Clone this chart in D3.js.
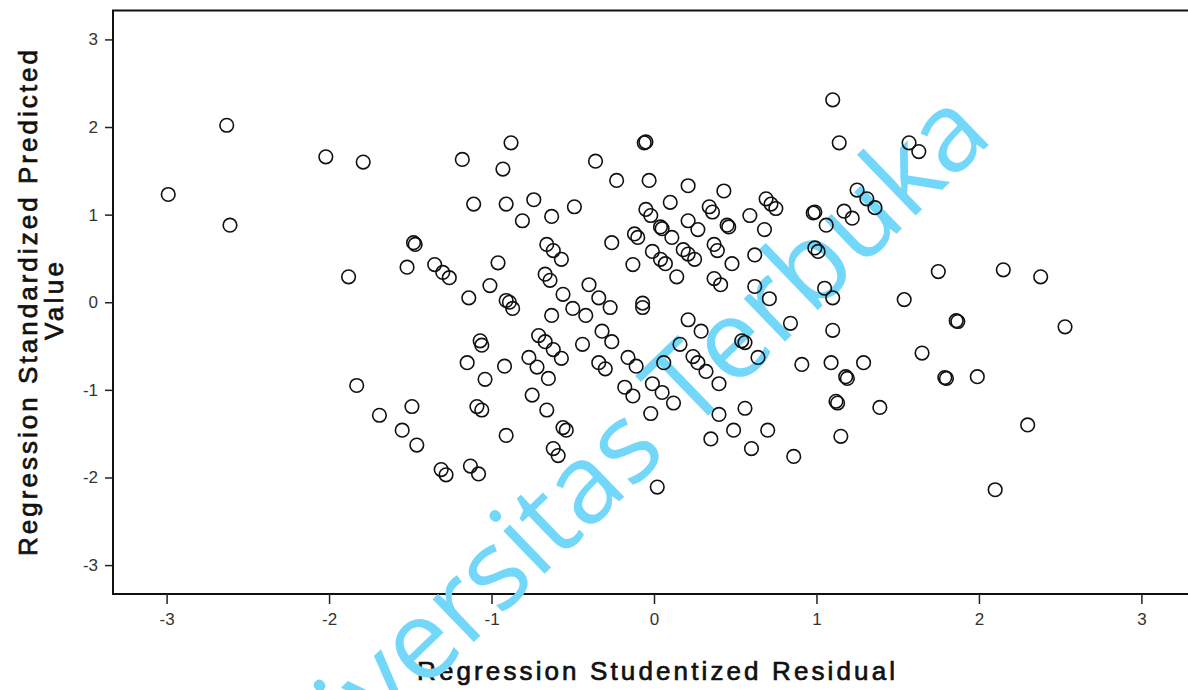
<!DOCTYPE html>
<html>
<head>
<meta charset="utf-8">
<script src="https://cdn.jsdelivr.net/npm/d3@7"></script>
<style>
  html, body { margin: 0; padding: 0; background: #fff; }
  svg { display: block; }
</style>
</head>
<body>
<div id="chart"></div>
<script>
// studentized residual (x) and standardized predicted value (y)
const residual = [
  -2.99, -2.63, -2.61, -2.02, -1.79, -1.88, -1.83, -1.69, -1.55, -1.52,
  -1.49, -1.48, -1.47, -1.46, -1.35, -1.30, -1.26, -1.31, -1.28, -1.18,
  -1.14, -1.13, -1.11, -1.08, -1.07, -1.06, -1.15, -1.09, -1.06, -1.04,
  -1.01, -0.96, -0.93, -0.92, -0.91, -0.91, -0.89, -0.87, -0.91, -0.88,
  -0.81, -0.77, -0.75, -0.74, -0.72, -0.71, -0.67, -0.67, -0.66, -0.66,
  -0.65, -0.64, -0.63, -0.63, -0.62, -0.62, -0.62, -0.59, -0.57, -0.57,
  -0.56, -0.56, -0.54, -0.49, -0.50, -0.42, -0.44, -0.40, -0.36, -0.34,
  -0.34, -0.30, -0.32, -0.27, -0.26, -0.26, -0.23, -0.18, -0.13, -0.16,
  -0.11, -0.13, -0.12, -0.10, -0.07, -0.07, -0.06, -0.05, -0.05, -0.03,
  -0.02, -0.02, -0.01, -0.01, 0.02, 0.04, 0.05, 0.04, 0.05, 0.06,
  0.07, 0.10, 0.11, 0.12, 0.14, 0.16, 0.18, 0.21, 0.21, 0.21,
  0.21, 0.24, 0.25, 0.27, 0.27, 0.29, 0.32, 0.34, 0.35, 0.36,
  0.37, 0.37, 0.39, 0.40, 0.40, 0.41, 0.43, 0.45, 0.46, 0.48,
  0.49, 0.54, 0.56, 0.56, 0.59, 0.60, 0.62, 0.62, 0.64, 0.68,
  0.69, 0.70, 0.71, 0.72, 0.75, 0.84, 0.86, 0.91, 0.98, 0.99,
  0.99, 1.01, 1.05, 1.06, 1.09, 1.10, 1.10, 1.10, 1.12, 1.13,
  1.14, 1.15, 1.17, 1.22, 1.25, 1.31, 1.36, 1.18, 1.19, 1.29,
  1.39, 1.54, 1.57, 1.63, 1.65, 1.75, 1.79, 1.80, 1.86, 1.87,
  1.99, 2.10, 2.15, 2.30, 2.38, 2.53
];
const predicted = [
  1.23, 2.02, 0.88, 1.66, 1.60, 0.29, -0.95, -1.29, -1.46, 0.40,
  -1.19, 0.68, 0.66, -1.63, 0.43, 0.34, 0.28, -1.91, -1.97, 1.63,
  0.05, -1.87, 1.12, -1.96, -0.44, -0.49, -0.69, -1.19, -1.23, -0.88,
  0.19, 0.45, 1.52, -0.73, 1.12, 0.02, 0.00, -0.07, -1.52, 1.82,
  0.93, -0.63, -1.06, 1.17, -0.74, -0.38, -0.45, 0.32, 0.66, -1.23,
  -0.87, 0.25, 0.98, -0.15, 0.59, -1.67, -0.54, -1.75, 0.49, -0.64,
  0.09, -1.43, -1.46, 1.09, -0.07, -0.15, -0.48, 0.20, 1.61, 0.05,
  -0.69, -0.76, -0.33, -0.06, -0.45, 0.68, 1.39, -0.97, -1.07, -0.63,
  -0.73, 0.43, 0.78, 0.74, -0.01, -0.06, 1.82, 1.83, 1.06, 1.39,
  0.99, -1.27, 0.58, -0.93, -2.11, 0.86, 0.84, 0.49, -1.03, -0.69,
  0.44, 1.14, 0.74, -1.15, 0.29, -0.48, 0.60, 0.55, 1.33, -0.20,
  0.93, -0.62, 0.49, 0.83, -0.69, -0.33, -0.79, 1.09, -1.56, 1.03,
  0.66, 0.27, 0.59, -1.28, -0.93, 0.20, 1.27, 0.88, 0.86, 0.44,
  -1.46, -0.44, -0.46, -1.21, 0.99, -1.67, 0.54, 0.18, -0.63, 0.83,
  1.18, -1.46, 0.04, 1.12, 1.07, -0.24, -1.76, -0.71, 1.02, 1.03,
  0.62, 0.58, 0.16, 0.88, -0.69, 2.31, 0.05, -0.32, -1.13, -1.15,
  1.82, -1.53, 1.04, 0.96, 1.28, 1.18, 1.08, -0.85, -0.87, -0.69,
  -1.20, 0.03, 1.82, 1.72, -0.58, 0.35, -0.86, -0.87, -0.21, -0.22,
  -0.85, -2.14, 0.37, -1.40, 0.29, -0.28
];
const xTicks = [-3, -2, -1, 0, 1, 2, 3];
const yTicks = [-3, -2, -1, 0, 1, 2, 3];
const xTitle = 'Regression Studentized Residual';
const yTitle = ['Regression Standardized Predicted', 'Value'];
const watermark = 'Universitas Terbuka';

const width = 1188, height = 690;
const plotLeft = 113, plotRight = 1195, plotTop = 10.5, plotBottom = 594;

const svg = d3.select('#chart').append('svg')
  .attr('width', width)
  .attr('height', height);

const x = d3.scaleLinear().domain([-3.33, 3.33]).range([plotLeft, plotRight]);
const y = d3.scaleLinear().domain([-3.33, 3.33]).range([plotBottom, plotTop]);

// frame
svg.append('rect')
  .attr('x', plotLeft).attr('y', plotTop)
  .attr('width', plotRight - plotLeft).attr('height', plotBottom - plotTop)
  .attr('fill', 'none')
  .attr('stroke', '#111')
  .attr('stroke-width', 2);

// plain hyphen for negatives, like the scan
const tickFmt = d => String(d);

const tickFont = g => g.selectAll('text')
  .attr('font-family', '"Liberation Sans", Arial, sans-serif')
  .attr('font-size', 17)
  .attr('fill', '#333');

svg.append('g')
  .attr('transform', 'translate(0,' + plotBottom + ')')
  .call(d3.axisBottom(x).tickValues(xTicks).tickSize(10).tickPadding(9)
          .tickFormat(tickFmt))
  .call(g => g.select('.domain').remove())
  .call(g => g.selectAll('line').attr('stroke', '#222').attr('stroke-width', 1.5))
  .call(tickFont);

svg.append('g')
  .attr('transform', 'translate(' + plotLeft + ',0)')
  .call(d3.axisLeft(y).tickValues(yTicks).tickSize(8).tickPadding(7)
          .tickFormat(tickFmt))
  .call(g => g.select('.domain').remove())
  .call(g => g.selectAll('line').attr('stroke', '#222').attr('stroke-width', 1.5))
  .call(tickFont);

// axis titles
const titleStyle = t => t
  .attr('font-family', '"Liberation Sans", Arial, sans-serif')
  .attr('font-size', 26)
  .attr('fill', '#111')
  .attr('stroke', '#111')
  .attr('stroke-width', 0.7)
  .attr('lengthAdjust', 'spacing');

svg.append('text')
  .attr('x', 656).attr('y', 680)
  .attr('text-anchor', 'middle')
  .attr('textLength', 478)
  .text(xTitle)
  .call(titleStyle);

svg.append('text')
  .attr('transform', 'translate(37,303) rotate(-90)')
  .attr('text-anchor', 'middle')
  .attr('textLength', 506)
  .text(yTitle[0])
  .call(titleStyle);

svg.append('text')
  .attr('transform', 'translate(63,301) rotate(-90)')
  .attr('text-anchor', 'middle')
  .attr('textLength', 78)
  .text(yTitle[1])
  .call(titleStyle);

// watermark sits under the markers
svg.append('text')
  .attr('transform', 'translate(625,496) rotate(-44)')
  .attr('text-anchor', 'middle')
  .attr('font-family', '"Open Sans", "Noto Sans", sans-serif')
  .attr('font-size', 111)
  .attr('fill', '#72d7f9')
  .text(watermark);

svg.append('g')
  .selectAll('circle')
  .data(d3.zip(residual, predicted))
  .join('circle')
  .attr('cx', d => x(d[0]))
  .attr('cy', d => y(d[1]))
  .attr('r', 6.8)
  .attr('fill', 'none')
  .attr('stroke', '#111')
  .attr('stroke-width', 1.6);
</script>
</body>
</html>
